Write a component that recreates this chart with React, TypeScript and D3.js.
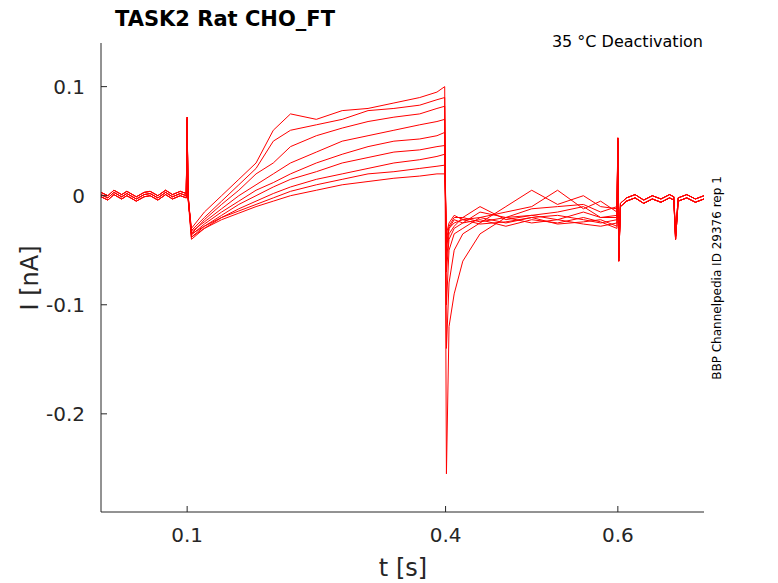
import React from "react";
import * as d3 from "d3";

// shared baseline before the step (t in s, I in nA)
const preT = [0, 0.008, 0.015, 0.024, 0.03, 0.041, 0.05, 0.057, 0.066, 0.075, 0.083, 0.092, 0.099, 0.1, 0.101];
const preI = [0.001, -0.002, 0.003, -0.001, 0.002, -0.003, 0.001, 0.002, -0.002, 0.003, -0.001, 0.002, 0.0, 0.07, 0.0];

// ramp segment per trace
const rampT = [0.105, 0.12, 0.14, 0.16, 0.18, 0.2, 0.22, 0.25, 0.28, 0.31, 0.34, 0.37, 0.39, 0.399];
const rampI = [
  [-0.03, -0.015, 0.0, 0.015, 0.03, 0.06, 0.075, 0.07, 0.078, 0.08, 0.085, 0.09, 0.095, 0.1],
  [-0.032, -0.02, -0.005, 0.01, 0.025, 0.05, 0.06, 0.065, 0.07, 0.078, 0.08, 0.083, 0.088, 0.09],
  [-0.035, -0.022, -0.008, 0.005, 0.02, 0.03, 0.045, 0.055, 0.062, 0.068, 0.072, 0.075, 0.08, 0.082],
  [-0.033, -0.024, -0.012, 0.0, 0.01, 0.02, 0.03, 0.04, 0.05, 0.055, 0.06, 0.065, 0.068, 0.07],
  [-0.036, -0.026, -0.015, -0.005, 0.005, 0.012, 0.02, 0.03, 0.038, 0.045, 0.05, 0.052, 0.055, 0.058],
  [-0.038, -0.028, -0.018, -0.008, 0.0, 0.008, 0.015, 0.022, 0.03, 0.035, 0.04, 0.042, 0.045, 0.046],
  [-0.04, -0.03, -0.02, -0.012, -0.005, 0.002, 0.008, 0.015, 0.02, 0.025, 0.03, 0.033, 0.036, 0.038],
  [-0.035, -0.028, -0.02, -0.014, -0.008, -0.002, 0.004, 0.01, 0.015, 0.02, 0.022, 0.025, 0.027, 0.028],
  [-0.038, -0.03, -0.022, -0.016, -0.01, -0.005, 0.0, 0.005, 0.01, 0.013, 0.016, 0.018, 0.02, 0.02],
];

// tail after the step per trace
const tailT = [0.401, 0.404, 0.41, 0.42, 0.44, 0.47, 0.5, 0.53, 0.56, 0.58, 0.599];
const tailI = [
  [-0.255, -0.12, -0.09, -0.06, -0.035, -0.02, -0.018, -0.022, -0.015, -0.02, -0.018],
  [-0.14, -0.08, -0.05, -0.035, -0.025, -0.01, 0.005, -0.008, 0.0, -0.01, -0.012],
  [-0.1, -0.05, -0.035, -0.03, -0.02, -0.015, -0.01, 0.005, -0.012, -0.005, -0.015],
  [-0.07, -0.04, -0.03, -0.025, -0.015, -0.02, -0.012, -0.01, -0.008, -0.015, -0.01],
  [-0.06, -0.035, -0.028, -0.02, -0.01, -0.022, -0.018, -0.015, -0.01, -0.02, -0.02],
  [-0.05, -0.03, -0.025, -0.022, -0.02, -0.025, -0.02, -0.018, -0.022, -0.025, -0.022],
  [-0.045, -0.03, -0.022, -0.025, -0.022, -0.028, -0.022, -0.025, -0.02, -0.024, -0.03],
  [-0.04, -0.028, -0.02, -0.02, -0.024, -0.02, -0.025, -0.022, -0.026, -0.028, -0.025],
  [-0.035, -0.025, -0.018, -0.022, -0.026, -0.024, -0.02, -0.026, -0.024, -0.022, -0.028],
];

// shared segment after the second step
const postT = [0.6, 0.601, 0.603, 0.61, 0.62, 0.63, 0.64, 0.65, 0.66, 0.665, 0.667, 0.67, 0.68, 0.69, 0.7];
const postI = [0.05, -0.06, -0.01, -0.005, -0.002, -0.007, -0.003, -0.006, -0.002, -0.004, -0.04, -0.005, -0.002, -0.006, -0.003];

const xTicks = [0.1, 0.4, 0.6];
const yTicks = [0.1, 0, -0.1, -0.2];

export default function App() {
  const W = 778, H = 583;
  const left = 101, right = 704, top = 43, bottom = 512;
  const x = d3.scaleLinear().domain([0, 0.7]).range([left, right]);
  const y = d3.scaleLinear().domain([-0.29, 0.14]).range([bottom, top]);
  const line = d3.line<[number, number]>().x((d) => x(d[0])).y((d) => y(d[1]));
  const font = "DejaVu Sans, sans-serif";

  const traces = rampI.map((r, k) => {
    const pts: [number, number][] = [];
    preT.forEach((t, i) => pts.push([t, preI[i] + (k % 3 - 1) * 0.002]));
    rampT.forEach((t, i) => pts.push([t, r[i]]));
    tailT.forEach((t, i) => pts.push([t, tailI[k][i]]));
    postT.forEach((t, i) => pts.push([t, postI[i] + (k % 2) * 0.003]));
    return pts;
  });

  return (
    <svg width={W} height={H} style={{ position: "absolute", left: 0, top: 0, whiteSpace: "pre" }}>
      <rect width={W} height={H} fill="white" />
      <g>
        {traces.map((p, i) => (
          <path key={i} d={line(p) || ""} fill="none" stroke="#ff0000" strokeWidth={1} />
        ))}
      </g>
      <line x1={left} x2={left} y1={top} y2={bottom} stroke="#262626" />
      <line x1={left} x2={right} y1={bottom} y2={bottom} stroke="#262626" />
      {xTicks.map((t) => (
        <g key={t}>
          <line x1={x(t)} x2={x(t)} y1={bottom} y2={bottom - 6} stroke="#262626" />
          <text x={x(t)} y={bottom + 30} fontSize={20} textAnchor="middle" fontFamily={font} fill="#262626">{t}</text>
        </g>
      ))}
      {yTicks.map((t) => (
        <g key={t}>
          <line x1={left} x2={left + 6} y1={y(t)} y2={y(t)} stroke="#262626" />
          <text x={left - 16} y={y(t) + 7} fontSize={20} textAnchor="end" fontFamily={font} fill="#262626">{t}</text>
        </g>
      ))}
      <text x={403} y={576} fontSize={24} textAnchor="middle" fontFamily={font} fill="#262626">t [s]</text>
      <text transform={`translate(38,278) rotate(-90)`} fontSize={24} textAnchor="middle" fontFamily={font} fill="#262626">I [nA]</text>
      <text x={115} y={26} fontSize={21} fontWeight="bold" fontFamily={font} fill="#000">{"TASK2  Rat  CHO_FT"}</text>
      <text x={703} y={47} fontSize={16} textAnchor="end" fontFamily={font} fill="#000">{"35 °C  Deactivation"}</text>
      <text transform={`translate(721,278) rotate(-90)`} fontSize={12} textAnchor="middle" fontFamily={font} fill="#000">BBP Channelpedia ID 29376 rep 1</text>
    </svg>
  );
}
